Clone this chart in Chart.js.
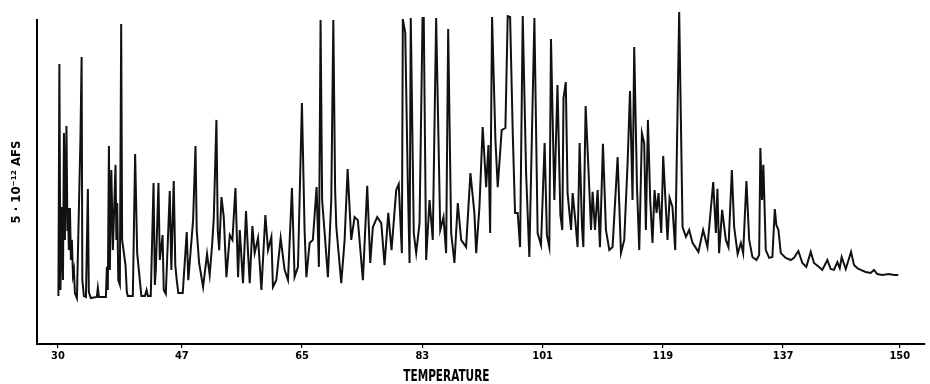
<!DOCTYPE html>
<html>
<head>
<meta charset="utf-8">
<script src="https://cdn.jsdelivr.net/npm/chart.js@4.4.1/dist/chart.umd.min.js"></script>
<style>
  html, body { margin: 0; padding: 0; background: #fff; }
</style>
</head>
<body>
<canvas id="chart" width="930" height="384"></canvas>
<script>
// Gas chromatogram, trace
// retention: chart divisions x10 (0 = 30 deg mark), signal: detector response (arb.)

const tickLabels = ["30", "47", "65", "83", "101", "119", "137", "150"];
const tickPositions = [0, 10.3, 20.3, 30.3, 40.3, 50.3, 60.3, 70];

const retention = [
  0.04, 0.12, 0.21, 0.33, 0.42, 0.5, 0.58, 0.71, 0.79, 0.83,
  0.91, 1.0, 1.08, 1.16, 1.25, 1.33, 1.41, 1.58, 1.87, 1.97,
  2.03, 2.16, 2.33, 2.49, 2.57, 2.74, 3.24, 3.32, 3.41, 3.99,
  4.07, 4.15, 4.24, 4.32, 4.44, 4.57, 4.79, 4.86, 4.93, 5.02,
  5.15, 5.26, 5.34, 5.62, 5.73, 5.81, 6.23, 6.42, 6.59, 6.81,
  6.94, 7.23, 7.37, 7.48, 7.72, 7.95, 8.06, 8.14, 8.36, 8.47,
  8.7, 8.8, 8.97, 9.3, 9.43, 9.63, 9.76, 9.88, 10.01, 10.38,
  10.71, 10.84, 11.24, 11.44, 11.54, 11.74, 12.07, 12.4, 12.62, 12.82,
  12.96, 13.18, 13.29, 13.41, 13.6, 13.79, 14.01, 14.29, 14.51, 14.76,
  14.98, 15.12, 15.39, 15.64, 15.81, 15.95, 16.17, 16.36, 16.64, 16.92,
  17.25, 17.47, 17.75, 17.88, 18.16, 18.52, 18.85, 19.13, 19.46, 19.68,
  19.96, 20.29, 20.51, 20.66, 20.93, 21.2, 21.51, 21.7, 21.84, 21.97,
  22.18, 22.45, 22.73, 22.9, 23.05, 23.15, 23.56, 23.84, 24.09, 24.39,
  24.67, 24.94, 25.36, 25.72, 25.97, 26.19, 26.55, 26.89, 27.16, 27.47,
  27.74, 28.13, 28.34, 28.6, 28.68, 28.88, 29.09, 29.24, 29.34, 29.59,
  29.79, 30.07, 30.32, 30.42, 30.62, 30.9, 31.17, 31.45, 31.79, 32.06,
  32.28, 32.45, 32.7, 32.97, 33.25, 33.53, 33.94, 34.3, 34.63, 34.78,
  35.05, 35.32, 35.61, 35.8, 35.94, 36.1, 36.38, 36.57, 36.9, 37.21,
  37.4, 37.6, 37.82, 38.01, 38.23, 38.43, 38.65, 38.93, 39.2, 39.62,
  39.89, 40.17, 40.47, 40.66, 40.86, 41.0, 41.28, 41.54, 41.78, 41.94,
  42.04, 42.23, 42.38, 42.67, 42.8, 43.02, 43.21, 43.38, 43.58, 43.69,
  43.88, 44.13, 44.33, 44.46, 44.66, 44.88, 45.07, 45.32, 45.57, 45.85,
  46.12, 46.54, 46.82, 47.09, 47.37, 47.57, 47.78, 47.92, 48.15, 48.34,
  48.56, 48.75, 48.89, 49.06, 49.25, 49.44, 49.61, 49.78, 49.94, 50.17,
  50.33, 50.56, 50.69, 50.86, 51.1, 51.33, 51.66, 51.94, 52.22, 52.49,
  52.77, 53.26, 53.65, 54.01, 54.49, 54.71, 54.84, 54.98, 55.23, 55.54,
  55.76, 56.04, 56.23, 56.52, 56.79, 56.98, 57.25, 57.48, 57.75, 58.08,
  58.31, 58.41, 58.55, 58.66, 58.86, 59.14, 59.41, 59.61, 59.74, 59.91,
  60.11, 60.52, 60.94, 61.21, 61.57, 61.9, 62.23, 62.6, 62.87, 63.29,
  63.56, 63.98, 64.26, 64.53, 64.81, 65.01, 65.17, 65.51, 65.95, 66.2,
  66.47, 66.75, 67.17, 67.58, 67.86, 68.13, 68.55, 69.1, 69.52, 69.88,
];

const signal = [
  16, 93.3, 18, 45.7, 21.3, 70.3, 34.7, 72.7, 38, 45.3,
  31.3, 45.3, 28, 34.7, 23, 24.7, 17, 15.3, 68, 95.7,
  21.3, 16, 15.7, 51.7, 17.3, 15.3, 15.7, 18.7, 15.7, 15.7,
  25.7, 18, 66, 24.7, 58, 31.3, 59.7, 34.7, 47, 21.3,
  19.7, 106.7, 34.7, 26.3, 17.3, 16, 16, 63.3, 30.3, 21.3,
  16, 16, 18, 16, 16, 53.7, 19.7, 24.7, 53.7, 28,
  36.3, 18, 16.7, 51, 24.7, 54.3, 26.3, 21.3, 17, 17,
  37.3, 21.3, 41.3, 66, 38, 27, 19, 30, 23, 33,
  42, 74.7, 38, 31.3, 49, 42.3, 22.3, 36.3, 34.7, 52,
  22.3, 38, 20.3, 44.3, 30.3, 20.3, 39.3, 30.3, 35.3, 18,
  43, 31.3, 35.7, 19, 21.3, 35.3, 24.7, 21.3, 52, 22.3,
  25.7, 80.3, 38, 22.3, 33.7, 34.7, 52.3, 25.7, 108, 48,
  37, 22.3, 48, 108, 51.3, 39, 20.3, 34.7, 58.3, 34.7,
  42.3, 41.3, 21.3, 52.7, 27, 39, 42.3, 40.3, 26.3, 43.7,
  31.3, 51.3, 53.3, 30.3, 108.3, 103.7, 54.7, 27, 108.7, 37,
  30.3, 40.3, 108.7, 108.7, 28, 48, 34.7, 108.7, 38, 42.3,
  30.3, 105, 37, 27, 47, 34.7, 32.3, 57, 43.7, 30.3,
  45.7, 72.3, 52.3, 66.3, 37, 109, 68, 52.3, 71.3, 72,
  109.3, 109, 70.3, 43.7, 43.7, 32.3, 109.3, 57, 29, 108.7,
  37, 33, 67, 36.3, 32.3, 101.7, 48, 86.3, 43, 38,
  82, 87.3, 50.3, 38, 50.3, 41.3, 32.3, 67, 39, 32.3,
  79.3, 57, 38, 50.7, 38, 51.3, 32.3, 66.7, 38, 31.3,
  32.3, 62.3, 30.3, 34.7, 60.3, 84.3, 48, 99, 52.3, 31.3,
  70.3, 67, 38, 74.7, 48, 33.7, 51.3, 43.7, 50.3, 37,
  62.7, 44.7, 34.7, 48.7, 45.7, 31.3, 110.7, 39, 35.7, 38,
  33.7, 30.7, 38, 32.3, 54, 37, 51.7, 30.3, 44.7, 34.7,
  32.3, 58, 39, 30, 33.7, 30.3, 54.3, 34.7, 29, 28,
  29.7, 65.3, 48, 59.7, 31.3, 28.7, 29, 45, 39.7, 38,
  30.3, 28.7, 28, 28.7, 31, 27, 25.7, 30.7, 27, 25.7,
  24.7, 28, 25, 24.7, 27.3, 25.3, 29, 25, 30.7, 26.3,
  25.3, 24.7, 24, 23.7, 24.7, 23.3, 23, 23.3, 23, 23,
];

const xCaption = "TEMPERATURE";
const yCaption = "5 \u00b7 10\u207b\u00b9\u00b2 AFS";

const FONT = "'Liberation Sans Narrow', 'DejaVu Sans Condensed', 'Arial Narrow', sans-serif";

const points = retention.map((t, i) => ({ x: t, y: signal[i] }));

// x caption sits a bit left of centre on the recorder sheet, narrow lettering
const captionPlugin = {
  id: "caption",
  afterDraw(chart) {
    const ctx = chart.ctx;
    const xs = chart.scales.x;
    ctx.save();
    ctx.fillStyle = "#000";
    ctx.font = "bold 15px " + FONT;
    ctx.textAlign = "center";
    ctx.textBaseline = "middle";
    ctx.translate(xs.getPixelForValue(32.3), 377);
    ctx.scale(0.78, 1);
    ctx.fillText(xCaption, 0, 0);
    ctx.restore();
  },
};

new Chart(document.getElementById("chart"), {
  type: "line",
  data: {
    datasets: [
      {
        data: points,
        borderColor: "#111",
        borderWidth: 2,
        pointRadius: 0,
        tension: 0,
        fill: false,
        clip: false,
      },
    ],
  },
  options: {
    responsive: false,
    animation: false,
    devicePixelRatio: 1,
    layout: { padding: { left: 0, right: 5, top: 20, bottom: 0 } },
    plugins: {
      legend: { display: false },
      tooltip: { enabled: false },
    },
    scales: {
      x: {
        type: "linear",
        min: -1.74,
        max: 72.1,
        afterBuildTicks: (scale) => {
          scale.ticks = tickPositions.map((v) => ({ value: v }));
        },
        afterFit: (scale) => {
          scale.height = 40;
        },
        ticks: {
          autoSkip: false,
          maxRotation: 0,
          padding: 2,
          color: "#000",
          font: { family: FONT, size: 11, weight: "bold" },
          callback: function (value, index) {
            return tickLabels[index];
          },
        },
        grid: {
          drawOnChartArea: false,
          tickLength: 4,
          color: "#000",
          lineWidth: 1.2,
        },
        border: { color: "#000", width: 2 },
      },
      y: {
        min: 0,
        max: 108,
        afterFit: (scale) => {
          scale.width = 37;
        },
        ticks: { display: false },
        grid: { drawOnChartArea: false, drawTicks: false },
        border: { color: "#000", width: 2 },
        title: {
          display: true,
          text: yCaption,
          color: "#000",
          font: { family: FONT, size: 13, weight: "bold" },
          padding: { top: 9, bottom: 0 },
        },
      },
    },
  },
  plugins: [captionPlugin],
});
</script>
</body>
</html>
